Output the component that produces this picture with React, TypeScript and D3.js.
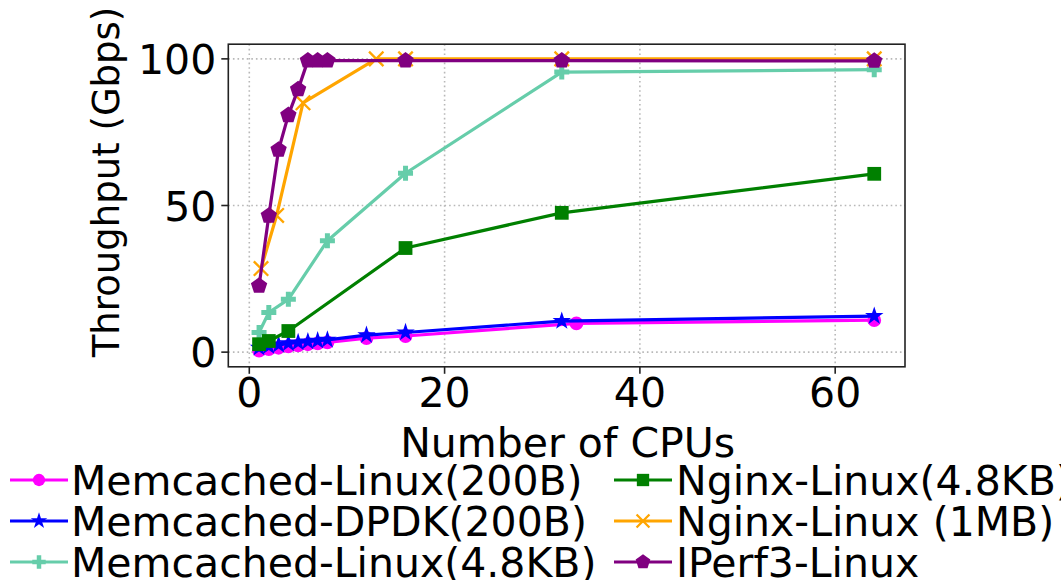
import React from "react";
import * as d3 from "d3";

const memLinux200X = [1, 2, 3, 4, 5, 6, 7, 8, 12, 16, 33.5, 64];
const memLinux200Y = [0.5, 1, 1.5, 2, 2.3, 2.7, 3, 3.3, 4.8, 5.5, 9.8, 10.9];
const memDpdkX = [1, 2, 3, 4, 5, 6, 7, 8, 12, 16, 32, 64];
const memDpdkY = [1.5, 2, 2.5, 3, 3.3, 3.6, 3.9, 4.2, 5.8, 6.7, 10.6, 12.3];
const memLinux48X = [1, 2, 4, 8, 16, 32, 64];
const memLinux48Y = [6.7, 13.5, 18, 38, 61, 95.5, 96.3];
const nginx48X = [1, 2, 4, 16, 32, 64];
const nginx48Y = [2.7, 3.8, 7.2, 35.5, 47.5, 60.8];
const nginx1MX = [1.2, 2.8, 5.5, 13, 16, 32, 64];
const nginx1MY = [28.5, 46.6, 85, 100, 100, 100, 100];
const iperfX = [1, 2, 3, 4, 5, 6, 7, 8, 16, 32, 64];
const iperfY = [22.6, 46.5, 69, 80.8, 89.6, 99.4, 99.4, 99.4, 99.4, 99.4, 99.3];

const xTicks = [0, 20, 40, 60];
const yTicks = [0, 50, 100];

type Series = { name: string; xs: number[]; ys: number[]; color: string; marker: string };
const series: Series[] = [
  { name: "Memcached-Linux(200B)", xs: memLinux200X, ys: memLinux200Y, color: "#ff00ff", marker: "circle" },
  { name: "Memcached-DPDK(200B)", xs: memDpdkX, ys: memDpdkY, color: "#0000ff", marker: "star" },
  { name: "Memcached-Linux(4.8KB)", xs: memLinux48X, ys: memLinux48Y, color: "#66cdaa", marker: "plus" },
  { name: "Nginx-Linux(4.8KB)", xs: nginx48X, ys: nginx48Y, color: "#008000", marker: "square" },
  { name: "Nginx-Linux (1MB)", xs: nginx1MX, ys: nginx1MY, color: "#ffa500", marker: "x" },
  { name: "IPerf3-Linux", xs: iperfX, ys: iperfY, color: "#800080", marker: "pentagon" },
];

const pentagonPath = (r: number) => {
  const pts = d3.range(5).map((i) => {
    const a = -Math.PI / 2 + (i * 2 * Math.PI) / 5;
    return [r * Math.cos(a), r * Math.sin(a)] as [number, number];
  });
  return d3.line()(pts) + "Z";
};

function Marker({ kind, color, x, y, scale = 1 }: { kind: string; color: string; x: number; y: number; scale?: number }) {
  const t = `translate(${x},${y})`;
  if (kind === "circle") return <path transform={t} d={d3.symbol(d3.symbolCircle, 150 * scale)()!} fill={color} />;
  if (kind === "star") return <path transform={t} d={d3.symbol(d3.symbolStar, 105 * scale)()!} fill={color} />;
  if (kind === "plus") return <path transform={t} d={d3.symbol(d3.symbolCross, 125 * scale)()!} fill={color} />;
  if (kind === "square") return <path transform={t} d={d3.symbol(d3.symbolSquare, 190 * scale)()!} fill={color} />;
  if (kind === "pentagon") return <path transform={t} d={pentagonPath(8.6 * Math.sqrt(scale))} fill={color} />;
  if (kind === "x") {
    const r = 7.2 * Math.sqrt(scale);
    return (
      <path transform={t} d={`M${-r},${-r}L${r},${r}M${-r},${r}L${r},${-r}`} stroke={color} strokeWidth={2.3} fill="none" />
    );
  }
  return null;
}

export default function App() {
  const W = 1061, H = 580;
  const left = 228.3, right = 905, top = 44.2, bottom = 366.8;
  const x = d3.scaleLinear().domain([-2.15, 67.15]).range([left, right]);
  const y = d3.scaleLinear().domain([-5, 105]).range([bottom, top]);
  const font = "'DejaVu Sans', sans-serif";

  const legendRows = [495, 536, 577];
  const legendCols = [{ lx0: 10, lx1: 68, tx: 71 }, { lx0: 614, lx1: 672, tx: 676 }];

  return (
    <svg width={W} height={H} style={{ position: "absolute", left: 0, top: 0, background: "#fff" }} fontFamily={font}>
      <rect x={0} y={0} width={W} height={H} fill="#fff" />
      {/* grid */}
      {xTicks.map((t) => (
        <line key={"gx" + t} x1={x(t)} x2={x(t)} y1={top} y2={bottom} stroke="#b8b8b8" strokeWidth={1.6} strokeDasharray="1.6,3" />
      ))}
      {yTicks.map((t) => (
        <line key={"gy" + t} x1={left} x2={right} y1={y(t)} y2={y(t)} stroke="#b8b8b8" strokeWidth={1.6} strokeDasharray="1.6,3" />
      ))}
      {/* series */}
      {series.map((s) => {
        const pts = s.xs.map((v, i) => [x(v), y(s.ys[i])] as [number, number]);
        return (
          <g key={s.name}>
            <path d={d3.line()(pts)!} fill="none" stroke={s.color} strokeWidth={3.2} strokeLinejoin="round" />
            {pts.map((p, i) => (
              <Marker key={i} kind={s.marker} color={s.color} x={p[0]} y={p[1]} />
            ))}
          </g>
        );
      })}
      {/* frame */}
      <rect x={left} y={top} width={right - left} height={bottom - top} fill="none" stroke="#222" strokeWidth={1.6} />
      {/* x ticks */}
      {xTicks.map((t) => (
        <g key={"xt" + t}>
          <line x1={x(t)} x2={x(t)} y1={bottom} y2={bottom + 7} stroke="#222" strokeWidth={1.6} />
          <text x={x(t)} y={407} textAnchor="middle" fontSize={41} fill="#000">{t}</text>
        </g>
      ))}
      {/* y ticks */}
      {yTicks.map((t) => (
        <g key={"yt" + t}>
          <line x1={left - 7} x2={left} y1={y(t)} y2={y(t)} stroke="#222" strokeWidth={1.6} />
          <text x={left - 12} y={y(t) + 15} textAnchor="end" fontSize={41} fill="#000">{t}</text>
        </g>
      ))}
      {/* axis labels */}
      <text x={(left + right) / 2 + 1} y={457} textAnchor="middle" fontSize={41} fill="#000">Number of CPUs</text>
      <text transform={`translate(${119},${182}) rotate(-90)`} textAnchor="middle" fontSize={37} fill="#000">Throughput (Gbps)</text>
      {/* legend */}
      {series.map((s, i) => {
        const col = legendCols[Math.floor(i / 3)];
        const by = legendRows[i % 3];
        const ly = by - 15;
        return (
          <g key={"lg" + s.name}>
            <line x1={col.lx0} x2={col.lx1} y1={ly} y2={ly} stroke={s.color} strokeWidth={3.2} />
            <Marker kind={s.marker} color={s.color} x={(col.lx0 + col.lx1) / 2} y={ly} scale={0.8} />
            <text x={col.tx} y={by} fontSize={41} fill="#000">{s.name}</text>
          </g>
        );
      })}
    </svg>
  );
}
